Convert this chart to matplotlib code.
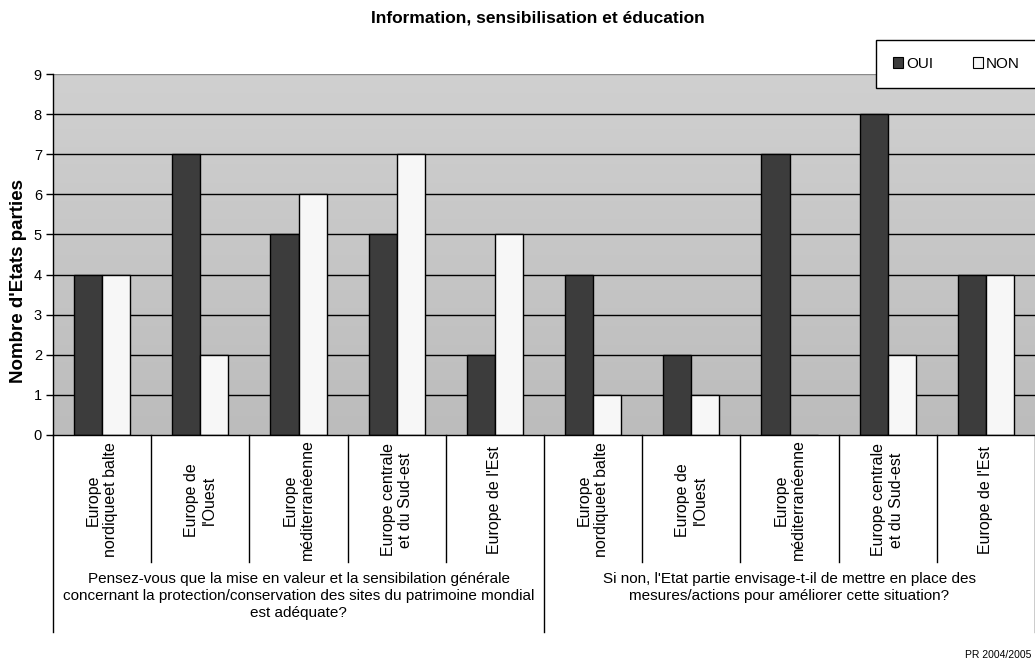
import numpy as np
import matplotlib
matplotlib.use("Agg")
import matplotlib.pyplot as plt
from matplotlib.patches import Patch
from matplotlib.lines import Line2D

plt.rcParams['font.family'] = ['Liberation Sans', 'DejaVu Sans']

title = "Information, sensibilisation et éducation"
ylabel = "Nombre d'Etats parties"
regions = [
    "Europe\nnordiqueet balte",
    "Europe de\nl'Ouest",
    "Europe\nméditerranéenne",
    "Europe centrale\net du Sud-est",
    "Europe de l'Est",
]
questions = [
    "Pensez-vous que la mise en valeur et la sensibilation générale\n"
    "concernant la protection/conservation des sites du patrimoine mondial\n"
    "est adéquate?",
    "Si non, l'Etat partie envisage-t-il de mettre en place des\n"
    "mesures/actions pour améliorer cette situation?",
]
series_names = ["OUI", "NON"]
oui = [4, 7, 5, 5, 2, 4, 2, 7, 8, 4]
non = [4, 2, 6, 7, 5, 1, 1, 0, 2, 4]
footer = "PR 2004/2005"

W, H = 1035, 662
fig = plt.figure(figsize=(W / 100, H / 100), dpi=100)

left_px, right_px, top_px, bot_px = 53, 1035, 74, 435
ax = fig.add_axes([left_px / W, 1 - bot_px / H,
                   (right_px - left_px) / W, (bot_px - top_px) / H])

n = len(oui)
x = np.arange(n)
ax.set_xlim(-0.5, n - 0.5)
ax.set_ylim(0, 9)

# plot-area background: soft vertical grey gradient
grad = np.linspace(0, 1, 256).reshape(-1, 1)
ax.imshow(grad, extent=(-0.5, n - 0.5, 0, 9), aspect='auto', origin='lower',
          cmap=matplotlib.colors.LinearSegmentedColormap.from_list(
              'bg', ['#bcbcbc', '#d0d0d0']), zorder=0)

for yv in range(1, 9):
    ax.axhline(yv, color='black', lw=1.0, zorder=1)
ax.axhline(9, color='#8a8a8a', lw=1.0, zorder=1)

bw = 0.286
ax.bar(x - bw / 2, oui, bw, color='#3c3c3c', edgecolor='black', lw=1.0,
       zorder=2, label=series_names[0])
ax.bar(x + bw / 2, non, bw, color='#f7f7f7', edgecolor='black', lw=1.0,
       zorder=2, label=series_names[1])

ax.set_yticks(range(0, 10))
ax.tick_params(axis='y', length=5, width=1, labelsize=10.5, pad=3)
ax.set_xticks([])
for s in ['top', 'right']:
    ax.spines[s].set_visible(False)
ax.spines['left'].set_linewidth(1)
ax.spines['bottom'].set_linewidth(1)

tr = ax.get_xaxis_transform()
ax_h = bot_px - top_px
def ay(py):
    return (bot_px - py) / ax_h

ax.set_ylabel(ylabel, fontsize=13.5, fontweight='bold', labelpad=5)
ax.yaxis.set_label_coords(-0.026, ay(281))

# two-level category axis
for i in range(n):
    ax.text(x[i], ay(500), regions[i % len(regions)], rotation=90,
            ha='center', va='center', multialignment='center',
            fontsize=11.5, transform=tr)

for i in range(n + 1):
    xb = i - 0.5
    long_line = i % len(regions) == 0
    ax.add_line(Line2D([xb, xb], [0, ay(632 if long_line else 562)],
                       color='black', lw=1, transform=tr, clip_on=False))

for g, q in enumerate(questions):
    cx = g * len(regions) + (len(regions) - 1) / 2
    ax.text(cx, ay(572), q, ha='center', va='top', multialignment='center',
            fontsize=11, linespacing=1.25, transform=tr)

fig.text(538 / W, 1 - 18 / H, title, ha='center', va='center',
         fontsize=12.5, fontweight='bold')

handles = [Patch(facecolor='#3c3c3c', edgecolor='black', lw=0.8),
           Patch(facecolor='#f7f7f7', edgecolor='black', lw=0.8)]
leg = fig.legend(handles, series_names, loc='upper left',
                 bbox_to_anchor=(876 / W, 1 - 40 / H), ncol=2,
                 frameon=True, fancybox=False, framealpha=1,
                 edgecolor='black', fontsize=11, handlelength=0.65,
                 handleheight=0.65, handletextpad=0.2, columnspacing=2.6,
                 borderpad=1.1, borderaxespad=0)
leg.get_frame().set_linewidth(1)
leg.set_zorder(5)

fig.text(1031 / W, 1 - 655 / H, footer, ha='right', va='center', fontsize=7.5)

fig.savefig('out.png', dpi=100)
